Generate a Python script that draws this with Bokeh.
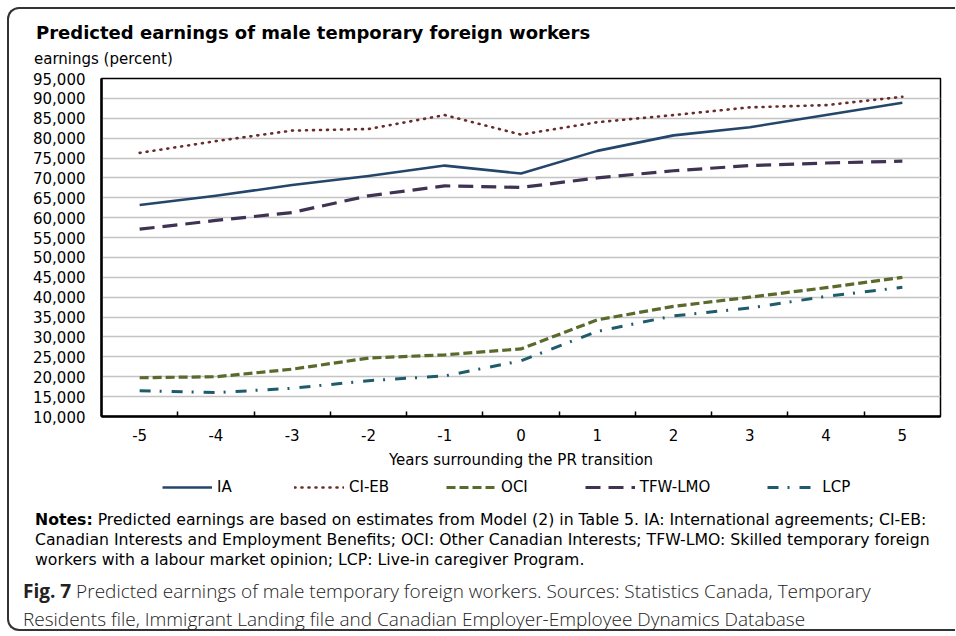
from bokeh.plotting import figure
from bokeh.models import (Range1d, FixedTicker, NumeralTickFormatter, Legend,
                          LegendItem, Div, ColumnDataSource)
from bokeh.layouts import column
from bokeh.embed import file_html
from bokeh.resources import INLINE

# ---- data -----------------------------------------------------------------
years = [-5, -4, -3, -2, -1, 0, 1, 2, 3, 4, 5]
year_labels = ["-5", "-4", "-3", "-2", "-1", "0", "1", "2", "3", "4", "5"]
ia = [63200, 65500, 68200, 70500, 73100, 71100, 76800, 80700, 82750, 85800, 88900]
ci_eb = [76300, 79250, 81900, 82300, 85800, 80900, 84000, 85800, 87750, 88300, 90400]
oci = [19750, 20000, 21900, 24700, 25500, 27000, 34300, 37700, 40000, 42400, 45000]
tfw_lmo = [57100, 59300, 61300, 65500, 68000, 67600, 70000, 71800, 73100, 73750, 74200]
lcp = [16500, 16000, 17100, 19000, 20200, 24000, 31400, 35300, 37300, 40200, 42500]
series_names = ["IA", "CI-EB", "OCI", "TFW-LMO", "LCP"]
series_keys = ["ia", "ci_eb", "oci", "tfw_lmo", "lcp"]
y_ticks = list(range(10000, 95001, 5000))
boundaries = [-4.5, -3.5, -2.5, -1.5, -0.5, 0.5, 1.5, 2.5, 3.5, 4.5]

FONT = "DejaVu Sans"

src = ColumnDataSource(dict(x=years, ia=ia, ci_eb=ci_eb, oci=oci,
                            tfw_lmo=tfw_lmo, lcp=lcp))

line_styles = {
    "ia": dict(line_color="#24466b", line_dash="solid", line_width=2.6, line_cap="butt"),
    "ci_eb": dict(line_color="#6a2b2b", line_dash="1 6", line_width=2.6, line_cap="round"),
    "oci": dict(line_color="#5a6a2c", line_dash="9 4", line_width=3.2, line_cap="butt"),
    "tfw_lmo": dict(line_color="#403252", line_dash="15 8", line_width=3.2, line_cap="butt"),
    "lcp": dict(line_color="#1f5c6b", line_dash="11 9 2 10", line_width=3.0, line_cap="butt"),
}

p = figure(width=946, height=403, output_backend="svg", toolbar_location=None,
           x_range=Range1d(-5.5, 5.5), y_range=Range1d(10000, 95000),
           min_border_left=92, min_border_right=15, min_border_top=10,
           min_border_bottom=47, background_fill_color="white",
           border_fill_color="white")
p.title.visible = False

for key in series_keys:
    p.line("x", key, source=src, line_join="round", **line_styles[key])

# axes
p.xaxis.ticker = FixedTicker(ticks=years, minor_ticks=boundaries)
p.xaxis.major_label_overrides = {y: l for y, l in zip(years, year_labels)}
p.xaxis.major_tick_line_color = None
p.xaxis.minor_tick_in = 5
p.xaxis.minor_tick_out = 0
p.xaxis.minor_tick_line_color = "black"
p.xaxis.minor_tick_line_width = 1.5
p.xaxis.axis_line_color = "black"
p.xaxis.axis_line_width = 2.5
p.xaxis.major_label_standoff = 6
p.xaxis.axis_label = "Years surrounding the PR transition"
p.xaxis.axis_label_standoff = 7
p.xaxis.axis_label_text_font = FONT
p.xaxis.axis_label_text_font_size = "15px"
p.xaxis.axis_label_text_font_style = "normal"
p.xaxis.axis_label_text_color = "black"

p.yaxis.ticker = FixedTicker(ticks=y_ticks)
p.yaxis.formatter = NumeralTickFormatter(format="0,0")
p.yaxis.major_tick_line_color = None
p.yaxis.minor_tick_line_color = None
p.yaxis.axis_line_color = "black"
p.yaxis.axis_line_width = 2.5
p.yaxis.major_label_standoff = 10

for ax in (p.xaxis, p.yaxis):
    ax.major_label_text_font = FONT
    ax.major_label_text_font_size = "15px"
    ax.major_label_text_color = "black"

p.xgrid.grid_line_color = None
p.ygrid.ticker = FixedTicker(ticks=y_ticks)
p.ygrid.grid_line_color = "#c4c4c4"
p.ygrid.grid_line_width = 1.6
p.outline_line_color = "black"
p.outline_line_width = 1.5

# ---- legend strip (its own small figure; series drawn out of view) --------
pl = figure(width=946, height=39, output_backend="svg", toolbar_location=None,
            x_range=Range1d(0, 1), y_range=Range1d(0, 1),
            x_axis_type=None, y_axis_type=None, min_border=0,
            outline_line_color=None, background_fill_color="white",
            border_fill_color="white")
pl.title.visible = False
pl.grid.visible = False
legend_renderers = [pl.line("x", k, source=src, **line_styles[k]) for k in series_keys]
legend = Legend(items=[LegendItem(label=n, renderers=[r])
                       for n, r in zip(series_names, legend_renderers)],
                orientation="horizontal", location=(61, 13),
                glyph_width=50, glyph_height=20, label_height=20,
                label_standoff=5, spacing=57, padding=0, margin=0,
                label_text_font=FONT, label_text_font_size="15px",
                label_text_color="black", border_line_color=None,
                background_fill_alpha=0)
pl.add_layout(legend, "center")

title = Div(text="Predicted earnings of male temporary foreign workers",
            margin=(13, 0, 0, 27), sizing_mode="fixed", width=900, height=22,
            styles={"font-family": FONT, "font-size": "18px",
                    "font-weight": "bold", "line-height": "22px",
                    "color": "black", "white-space": "nowrap"})
subtitle = Div(text="earnings (percent)", margin=(6, 0, 0, 25),
               sizing_mode="fixed", width=400, height=18,
               styles={"font-family": FONT, "font-size": "15px",
                       "line-height": "18px", "color": "black",
                       "white-space": "nowrap"})
notes = Div(text=("<b>Notes:</b> Predicted earnings are based on estimates from "
                  "Model (2) in Table 5. IA: International agreements; CI-EB:<br>"
                  "Canadian Interests and Employment Benefits; OCI: Other Canadian "
                  "Interests; TFW-LMO: Skilled temporary foreign<br>"
                  "workers with a labour market opinion; LCP: Live-in caregiver Program."),
            margin=(0, 0, 0, 26), sizing_mode="fixed", width=915, height=60,
            styles={"font-family": FONT, "font-size": "15.7px",
                    "line-height": "20px", "color": "black",
                    "white-space": "nowrap"})
caption = Div(text=("<b style='font-weight:700'>Fig. 7</b> Predicted earnings of "
                    "male temporary foreign workers. Sources: Statistics Canada, "
                    "Temporary<br>"
                    "Residents file, Immigrant Landing file and Canadian "
                    "Employer-Employee Dynamics Database"),
              margin=(7, 0, 0, 14), sizing_mode="fixed", width=900, height=52,
              styles={"font-family": "'Open Sans'", "font-size": "19px",
                      "line-height": "28px", "color": "#222",
                      "white-space": "nowrap", "font-weight": "300"})

layout = column(title, subtitle, p, pl, notes, caption, spacing=0,
                margin=(7, 0, 0, 7),
                styles={"border": "2px solid #333", "border-right": "none",
                        "border-radius": "12px 0 0 12px",
                        "background": "white"})

open("out.html", "w").write(file_html(layout, INLINE))
